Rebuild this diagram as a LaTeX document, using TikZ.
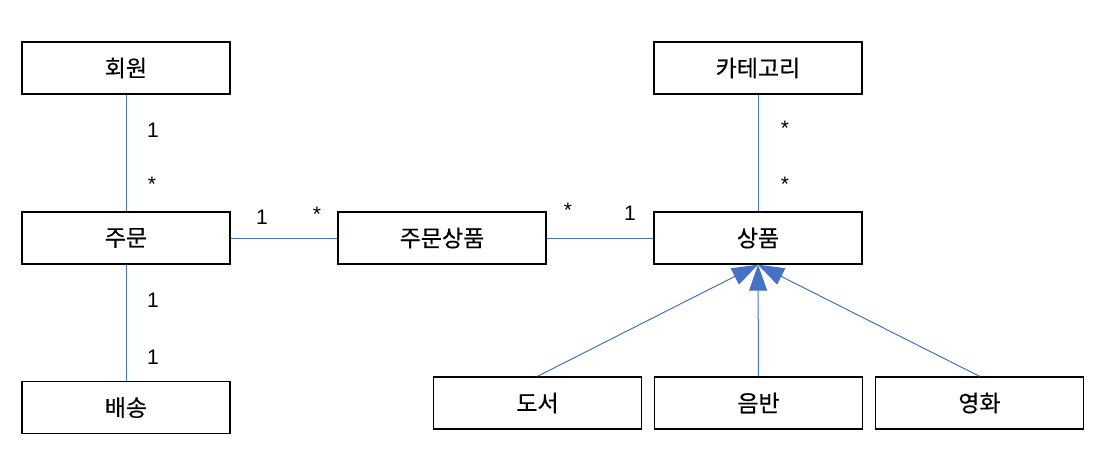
\documentclass[tikz,border=0pt]{standalone}
\usepackage{fontspec}
\setmainfont{Liberation Sans}
\newfontfamily\kr[FakeBold=0.4]{Noto Sans CJK KR}
\usetikzlibrary{arrows.meta}
\definecolor{lineblue}{HTML}{4472C4}
\begin{document}
\begin{tikzpicture}[x=1pt,y=-1pt,
  box/.style={draw=black,line width=1.4pt,minimum width=208pt,minimum height=52pt,inner sep=0pt,font=\kr\fontsize{23}{23}\selectfont},
  conn/.style={draw=lineblue,line width=1pt},
  mult/.style={font=\fontsize{21}{21}\selectfont,inner sep=0pt},
  gen/.style={conn,-{Triangle[length=26pt,width=18pt,fill=lineblue]}}]
\useasboundingbox (0,0) rectangle (1104,459);
\node[box] (member) at (126,68) {회원};
\node[box] (order) at (126,238) {주문};
\node[box] (delivery) at (126,407.5) {배송};
\node[box] (orderitem) at (442,238) {주문상품};
\node[box] (category) at (758,68) {카테고리};
\node[box] (item) at (758,238) {상품};
\node[box] (book) at (537.5,403) {도서};
\node[box] (album) at (758.5,403) {음반};
\node[box] (movie) at (979.5,403) {영화};

\draw[conn] (member) -- (order);
\draw[conn] (order) -- (delivery);
\draw[conn] (order) -- (orderitem);
\draw[conn] (orderitem) -- (item);
\draw[conn] (category) -- (item);
\draw[gen] (book.north) -- (item.south);
\draw[gen] (album.north) -- (item.south);
\draw[gen] (movie.north) -- (item.south);

\node[mult] (m1) at (153,130) {1};
\node[mult] (m2) at (152,184) {*};
\node[mult] (m3) at (262,217) {1};
\node[mult] (m4) at (317,214) {*};
\node[mult] (m5) at (568,210) {*};
\node[mult] (m6) at (630,213) {1};
\node[mult] (m7) at (785,128) {*};
\node[mult] (m8) at (785,184) {*};
\node[mult] (m9) at (153,300) {1};
\node[mult] (m10) at (153,357) {1};
\end{tikzpicture}
\end{document}
